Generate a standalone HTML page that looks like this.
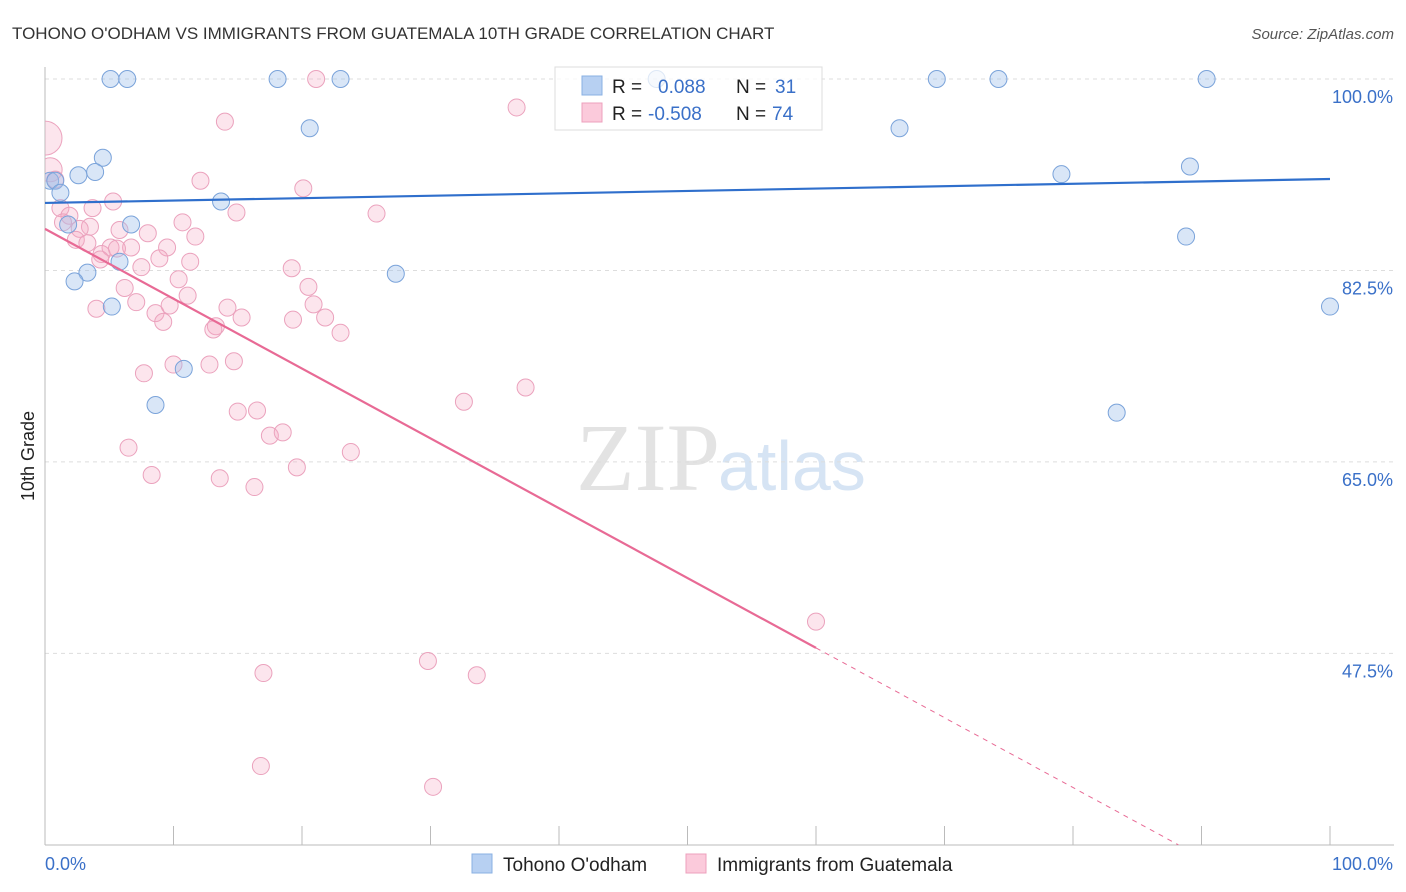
<!DOCTYPE html>
<html><head><meta charset="utf-8"><style>
body{margin:0;background:#fff;font-family:"Liberation Sans",sans-serif}
svg{display:block}
</style></head><body>
<svg id="c" width="1406" height="892" xmlns="http://www.w3.org/2000/svg">
<defs><clipPath id="plotclip"><rect x="45" y="60" width="1361" height="786"/></clipPath></defs>
<text x="12" y="39" font-size="17" fill="#333">TOHONO O'ODHAM VS IMMIGRANTS FROM GUATEMALA 10TH GRADE CORRELATION CHART</text>
<text x="1394" y="39" font-size="15" fill="#555" font-style="italic" text-anchor="end">Source: ZipAtlas.com</text>
<text x="720" y="490" font-size="96" fill="#e3e3e3" text-anchor="end" font-family="Liberation Serif,serif">ZIP</text>
<text x="718" y="490" font-size="70" fill="#d6e4f4">atlas</text>
<text transform="translate(34,456) rotate(-90)" font-size="18" fill="#222" text-anchor="middle">10th Grade</text>
<g id="grid"></g><g id="axes"></g><g id="pts" clip-path="url(#plotclip)"></g><g id="lines"></g>
<g>
<rect x="555" y="67" width="267" height="63" fill="rgba(255,255,255,0.75)" stroke="#ddd"/>
<rect x="582" y="76" width="20" height="19" fill="#b7d0f2" stroke="#8ab0e3"/>
<rect x="582" y="103" width="20" height="19" fill="#fbcadb" stroke="#eea0bc"/>
<text x="612" y="93" font-size="19" fill="#222">R = </text><text x="658" y="93" font-size="19" fill="#3a70c8">0.088</text>
<text x="736" y="93" font-size="19" fill="#222">N = </text><text x="775" y="93" font-size="19" fill="#3a70c8">31</text>
<text x="612" y="120" font-size="19" fill="#222">R = </text><text x="648" y="120" font-size="19" fill="#3a70c8">-0.508</text>
<text x="736" y="120" font-size="19" fill="#222">N = </text><text x="772" y="120" font-size="19" fill="#3a70c8">74</text>
</g>
<g>
<rect x="472" y="854" width="20" height="19" fill="#b7d0f2" stroke="#8ab0e3"/>
<text x="503" y="871" font-size="19" fill="#222">Tohono O'odham</text>
<rect x="686" y="854" width="20" height="19" fill="#fbcadb" stroke="#eea0bc"/>
<text x="717" y="871" font-size="19" fill="#222">Immigrants from Guatemala</text>
</g>
</svg>
<script>
const blueX=[5.1,6.4,18.1,23.0,47.6,69.4,74.2,90.4,20.6,66.5,4.5,3.9,2.6,0.4,0.8,1.2,79.1,89.1,13.7,6.7,1.8,88.8,5.8,3.3,2.3,27.3,5.2,100,10.8,8.6,83.4];
const blueY=[100,100,100,100,100,100,100,100,95.5,95.5,92.8,91.5,91.2,90.7,90.7,89.6,91.3,92.0,88.8,86.7,86.7,85.6,83.3,82.3,81.5,82.2,79.2,79.2,73.5,70.2,69.5];
const pinkX=[0,0.4,0.8,21.1,36.7,14.0,12.1,20.1,5.3,3.7,1.2,14.9,25.8,1.9,10.7,1.4,3.5,2.7,8.0,11.7,5.8,2.4,3.3,9.5,5.1,6.7,5.6,4.4,8.9,11.3,4.3,7.5,19.2,10.4,20.5,6.2,11.1,7.1,20.9,4.0,14.2,8.6,9.7,15.3,19.3,21.8,9.2,13.3,13.1,23.0,10.0,12.8,14.7,7.7,37.4,32.6,15.0,16.5,17.5,18.5,6.5,23.8,19.6,8.3,13.6,16.3,60.0,29.8,17.0,33.6,16.8,30.2];
const pinkY=[94.6,91.7,90.8,100,97.4,96.1,90.7,90.0,88.8,88.2,88.2,87.8,87.7,87.5,86.9,86.9,86.5,86.3,85.9,85.6,86.2,85.3,85.0,84.6,84.6,84.6,84.5,84.0,83.6,83.3,83.5,82.8,82.7,81.7,81.0,80.9,80.2,79.6,79.4,79.0,79.1,78.6,79.3,78.2,78.0,78.2,77.8,77.4,77.1,76.8,73.9,73.9,74.2,73.1,71.8,70.5,69.6,69.7,67.4,67.7,66.3,65.9,64.5,63.8,63.5,62.7,50.4,46.8,45.7,45.5,37.2,35.3];
const yTicks=[100,82.5,65,47.5];
const yTickLabels=["100.0%","82.5%","65.0%","47.5%"];
const blueFit=[88.67,90.86];
const pinkFit=[86.3,48.0];
const pinkFitEndX=60;
const NS="http://www.w3.org/2000/svg";
const X=v=>45+v*12.85, Y=v=>79+(100-v)*10.94;
function mk(tag,attrs,parent){const e=document.createElementNS(NS,tag);for(const k in attrs)e.setAttribute(k,attrs[k]);document.getElementById(parent).appendChild(e);return e;}
yTicks.forEach((t,i)=>{
 const l=mk('line',{x1:45,x2:1394,y1:Y(t),y2:Y(t),stroke:'#ddd','stroke-dasharray':'4,4'},'grid');
 
 
 const tx=mk('text',{x:1393,y:Y(t)+24,'font-size':18,fill:'#3a70c8','text-anchor':'end'},'grid');
 tx.textContent=yTickLabels[i];
 
 
});
const ax=mk('line',{x1:45,x2:45,y1:67,y2:845,stroke:'#bbb'},'axes');


const bx=mk('line',{x1:45,x2:1394,y1:845,y2:845,stroke:'#bbb'},'axes');


for(let i=0;i<=10;i++){const t=mk('line',{x1:X(i*10),x2:X(i*10),y1:826,y2:845,stroke:'#bbb'},'axes');
 
 }
[[45,'start','0.0%'],[1393,'end','100.0%']].forEach(a=>{const t=mk('text',{x:a[0],y:870,'font-size':18,fill:'#3a70c8','text-anchor':a[1]},'axes');t.textContent=a[2];
 
 });
pinkX.forEach((x,i)=>{const r=i===0?17:(i===1?12:8.5);
 const c=mk('circle',{cx:X(x),cy:Y(pinkY[i]),r:r,fill:'rgba(246,170,196,0.3)',stroke:'#eba2bd','stroke-width':1},'pts');
 
 });
blueX.forEach((x,i)=>{
 const c=mk('circle',{cx:X(x),cy:Y(blueY[i]),r:8.5,fill:'rgba(160,192,236,0.4)',stroke:'#7aa3da','stroke-width':1},'pts');
 
 });
const bl=mk('line',{x1:X(0),y1:Y(blueFit[0]),x2:X(100),y2:Y(blueFit[1]),stroke:'#2f6fcc','stroke-width':2.2},'lines');


const slope=(pinkFit[1]-pinkFit[0])/pinkFitEndX;
const pl=mk('line',{x1:X(0),y1:Y(pinkFit[0]),x2:X(pinkFitEndX),y2:Y(pinkFit[1]),stroke:'#e86a95','stroke-width':2.2},'lines');


const xEnd=(30-pinkFit[0])/slope;
const pd=mk('line',{x1:X(pinkFitEndX),y1:Y(pinkFit[1]),x2:X(xEnd),y2:Y(30),stroke:'#e86a95','stroke-width':1,'stroke-dasharray':'5,5'},'lines');


</script>
</body></html>
